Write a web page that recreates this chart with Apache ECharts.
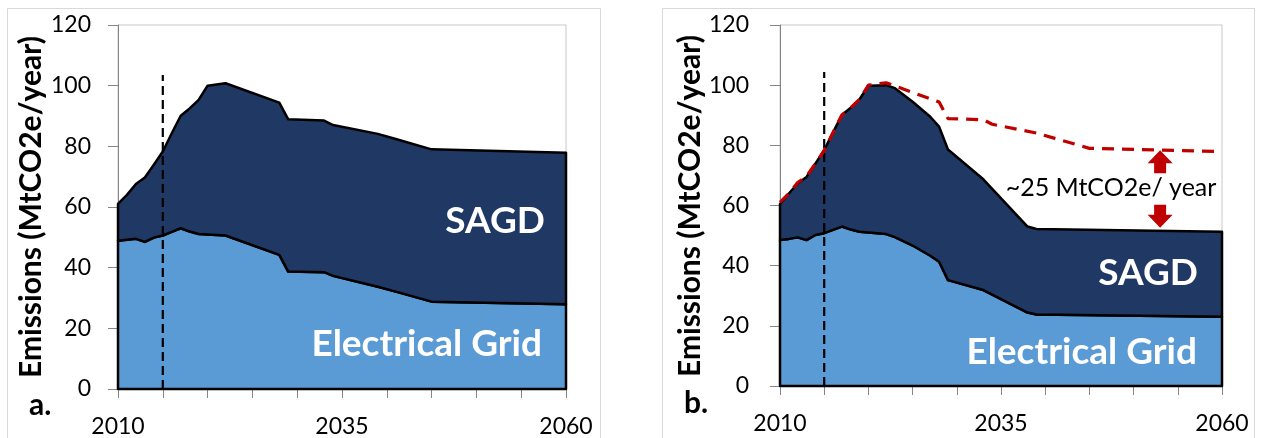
<!DOCTYPE html>
<html>
<head>
<meta charset="utf-8">
<script src="https://cdn.jsdelivr.net/npm/echarts@6/dist/echarts.min.js"></script>
<style>
  html, body { margin: 0; padding: 0; background: #fff; }
  #chart { width: 1261px; height: 438px; }
</style>
</head>
<body>
<div id="chart"></div>
<script>
// Panel a: reference pathway
const yearsA = [2010, 2011, 2012, 2013, 2014, 2015, 2016, 2017, 2018, 2019, 2020, 2022, 2028, 2029, 2033, 2034, 2039, 2041, 2045, 2060];
const gridA  = [48.9, 49.2, 49.5, 48.5, 49.9, 50.6, 51.8, 53.0, 51.9, 51.1, 50.9, 50.6, 44.2, 38.7, 38.5, 37.3, 33.7, 32.1, 28.8, 27.9];
const sagdA  = [12.1, 14.8, 18.1, 21.2, 24.0, 27.7, 32.5, 37.1, 40.6, 44.2, 49.1, 50.2, 50.2, 50.2, 50.0, 49.7, 50.4, 50.3, 50.2, 50.0];

// Panel b: reduced pathway
const yearsB = [2010, 2011, 2012, 2013, 2014, 2015, 2016, 2017, 2018, 2019, 2020, 2022, 2023, 2025, 2027, 2028, 2029, 2033, 2038, 2039, 2060];
const gridB  = [48.5, 48.9, 49.4, 48.5, 50.2, 50.8, 51.9, 53.0, 52.0, 51.3, 51.0, 50.5, 49.5, 46.7, 43.3, 41.3, 35.2, 31.9, 24.4, 23.8, 23.0];
const sagdB  = [12.0, 15.1, 17.9, 21.0, 23.7, 27.6, 32.4, 37.1, 40.5, 44.0, 48.8, 49.5, 49.5, 47.8, 46.2, 44.9, 43.4, 36.8, 28.6, 28.4, 28.3];

// Axis labels
const xLabelYears = [2010, 2035, 2060];
const yAxisTitle = 'Emissions (MtCO2e/year)';

// Vertical marker at the current year
const markerYear = 2015;
const markerTop = [103.5, 104.4];

// Gap annotation in panel b: [year, upper value, lower value]
const gapArrow = [2053, 78.4, 52.6];
const gapText = '~25 MtCO2e/ year';

const FONT = 'Lato, "Open Sans", sans-serif';
const NAVY = '#203864';
const LIGHT = '#5B9BD5';
const RED = '#C00000';
const AXIS_GREY = '#868686';

const baselineA = yearsA.map((y, i) => [y, +(gridA[i] + sagdA[i]).toFixed(1)]);

function areaRenderer(years, grid, sagd) {
  return function (params, api) {
    const base = years.map((y, i) => api.coord([y, grid[i]]));
    const top = years.map((y, i) => api.coord([y, grid[i] + sagd[i]]));
    const first = years[0], last = years[years.length - 1];
    const gridPoly = base.concat([api.coord([last, 0]), api.coord([first, 0])]);
    const sagdPoly = top.concat(base.slice().reverse());
    return {
      type: 'group',
      children: [
        { type: 'polygon', shape: { points: gridPoly },
          style: { fill: LIGHT, stroke: '#000', lineWidth: 2.5, lineJoin: 'round' } },
        { type: 'polygon', shape: { points: sagdPoly },
          style: { fill: NAVY, stroke: '#000', lineWidth: 2.5, lineJoin: 'round' } }
      ]
    };
  };
}

function arrowRenderer(params, api) {
  const x = api.value(0);
  const pTop = api.coord([x, api.value(1)]);
  const pBot = api.coord([x, api.value(2)]);
  const cx = pTop[0];
  const hw = 12.5, sw = 6, hh = 13, sh = 10;
  const up = [
    [cx, pTop[1]], [cx + hw, pTop[1] + hh], [cx + sw, pTop[1] + hh],
    [cx + sw, pTop[1] + hh + sh], [cx - sw, pTop[1] + hh + sh],
    [cx - sw, pTop[1] + hh], [cx - hw, pTop[1] + hh]
  ];
  const down = [
    [cx, pBot[1]], [cx + hw, pBot[1] - hh], [cx + sw, pBot[1] - hh],
    [cx + sw, pBot[1] - hh - sh], [cx - sw, pBot[1] - hh - sh],
    [cx - sw, pBot[1] - hh], [cx - hw, pBot[1] - hh]
  ];
  return {
    type: 'group',
    children: [
      { type: 'polygon', shape: { points: up }, style: { fill: RED } },
      { type: 'polygon', shape: { points: down }, style: { fill: RED } }
    ]
  };
}

function makeXAxis(gridIndex) {
  return {
    type: 'value', gridIndex, min: 2010, max: 2060, interval: 5,
    axisLine: { show: true, lineStyle: { color: AXIS_GREY, width: 1 } },
    axisTick: { show: true, inside: false, length: 9, lineStyle: { color: AXIS_GREY } },
    axisLabel: {
      showMinLabel: true, showMaxLabel: true,
      formatter: v => (xLabelYears.includes(v) ? String(v) : ''),
      fontFamily: FONT, fontSize: 23, color: '#000', margin: 26
    },
    splitLine: { show: false }
  };
}

function makeYAxis(gridIndex, margin) {
  return {
    type: 'value', gridIndex, min: 0, max: 120, interval: 20,
    axisLine: { show: true, lineStyle: { color: AXIS_GREY, width: 1 } },
    axisTick: { show: true, inside: false, length: 10, lineStyle: { color: AXIS_GREY } },
    axisLabel: { fontFamily: FONT, fontSize: 23, color: '#000', margin },
    splitLine: { show: false }
  };
}

function txt(x, y, text, font, opts, rotation) {
  return {
    type: 'text', x, y, z: 100, rotation: rotation || 0,
    style: Object.assign({ text, font, fill: '#000', align: 'center', verticalAlign: 'middle' }, opts || {})
  };
}

const chart = echarts.init(document.getElementById('chart'), null, { renderer: 'canvas' });

chart.setOption({
  animation: false,
  backgroundColor: '#fff',
  grid: [
    { left: 118, top: 25, width: 448, height: 364, show: true, borderColor: '#c8c8c8', borderWidth: 1, backgroundColor: 'transparent' },
    { left: 780, top: 25, width: 442, height: 361, show: true, borderColor: '#c8c8c8', borderWidth: 1, backgroundColor: 'transparent' }
  ],
  xAxis: [makeXAxis(0), makeXAxis(1)],
  yAxis: [makeYAxis(0, 27), makeYAxis(1, 31)],
  series: [
    {
      type: 'custom', name: 'areasA', xAxisIndex: 0, yAxisIndex: 0, silent: true,
      data: [[yearsA[0], 0]], encode: { x: 0, y: 1 },
      renderItem: areaRenderer(yearsA, gridA, sagdA), z: 2
    },
    {
      type: 'custom', name: 'areasB', xAxisIndex: 1, yAxisIndex: 1, silent: true,
      data: [[yearsB[0], 0]], encode: { x: 0, y: 1 },
      renderItem: areaRenderer(yearsB, gridB, sagdB), z: 2
    },
    {
      type: 'line', name: 'markerA', xAxisIndex: 0, yAxisIndex: 0, silent: true,
      data: [[markerYear, 0], [markerYear, markerTop[0]]],
      symbol: 'none', lineStyle: { color: '#000', width: 2.2, type: [9, 5] }, z: 5
    },
    {
      type: 'line', name: 'markerB', xAxisIndex: 1, yAxisIndex: 1, silent: true,
      data: [[markerYear, 0], [markerYear, markerTop[1]]],
      symbol: 'none', lineStyle: { color: '#000', width: 2.2, type: [9, 5] }, z: 5
    },
    {
      type: 'line', name: 'baseline', xAxisIndex: 1, yAxisIndex: 1, silent: true,
      data: baselineA, symbol: 'none',
      lineStyle: { color: RED, width: 3.2, type: [12, 8] }, z: 6
    },
    {
      type: 'custom', name: 'gap', xAxisIndex: 1, yAxisIndex: 1, silent: true,
      data: [gapArrow], encode: { x: 0, y: [1, 2] },
      renderItem: arrowRenderer, z: 7
    }
  ],
  graphic: [
    { type: 'rect', z: 0, shape: { x: 7.5, y: 8.5, width: 593, height: 440 },
      style: { fill: 'none', stroke: '#d9d9d9', lineWidth: 1 } },
    { type: 'rect', z: 0, shape: { x: 662.5, y: 8.5, width: 592, height: 440 },
      style: { fill: 'none', stroke: '#d9d9d9', lineWidth: 1 } },
    txt(31, 207, yAxisTitle, 'bold 30px ' + FONT, {}, Math.PI / 2),
    txt(690, 206, yAxisTitle, 'bold 30px ' + FONT, {}, Math.PI / 2),
    txt(545, 221, 'SAGD', 'bold 37px ' + FONT, { fill: '#fff', align: 'right' }),
    txt(542, 344, 'Electrical Grid', 'bold 37px ' + FONT, { fill: '#fff', align: 'right' }),
    txt(1198, 273, 'SAGD', 'bold 37px ' + FONT, { fill: '#fff', align: 'right' }),
    txt(1197, 352, 'Electrical Grid', 'bold 37px ' + FONT, { fill: '#fff', align: 'right' }),
    txt(1111, 188, gapText, '25px ' + FONT, {}),
    txt(29, 405, 'a.', 'bold 30px ' + FONT, { align: 'left' }),
    txt(684, 403, 'b.', 'bold 30px ' + FONT, { align: 'left' })
  ]
});
</script>
</body>
</html>
